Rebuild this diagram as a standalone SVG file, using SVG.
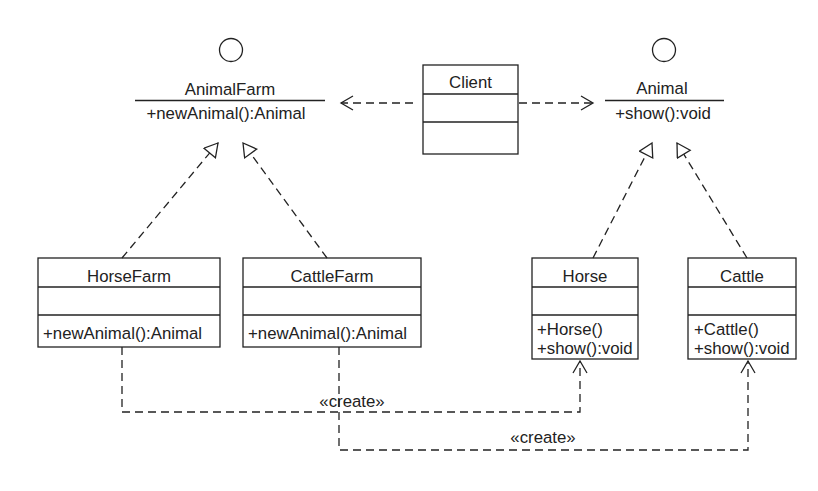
<svg xmlns="http://www.w3.org/2000/svg" width="818" height="491" viewBox="0 0 818 491">
<style>
text{font-family:"Liberation Sans",Arial,sans-serif;font-size:16.8px;fill:#222}
.c{text-anchor:middle}
.box{fill:#fff;stroke:#222;stroke-width:1.3}
.ln{fill:none;stroke:#222;stroke-width:1.3}
.dash{fill:none;stroke:#222;stroke-width:1.3;stroke-dasharray:8 5}
</style>
<defs>
<marker id="tri" markerUnits="userSpaceOnUse" markerWidth="20" markerHeight="20" refX="15" refY="8" orient="auto">
<path d="M15,8 L2,0.5 L2,15.5 Z" fill="#fff" stroke="#222" stroke-width="1.3"/>
</marker>
<marker id="open" markerUnits="userSpaceOnUse" markerWidth="20" markerHeight="20" refX="14" refY="8" orient="auto">
<path d="M2,1 L14,8 L2,15" fill="none" stroke="#222" stroke-width="1.3"/>
</marker>
</defs>
<g id="AnimalFarm">
<circle cx="231" cy="50" r="11.5" class="ln"/>
<text x="230" y="95" class="c">AnimalFarm</text>
<line x1="135" y1="100.5" x2="325" y2="100.5" class="ln"/>
<text x="226" y="119" class="c">+newAnimal():Animal</text>
</g>
<g id="Animal">
<circle cx="664" cy="50" r="11.5" class="ln"/>
<text x="662" y="94" class="c">Animal</text>
<line x1="605" y1="100.5" x2="724" y2="100.5" class="ln"/>
<text x="663" y="119" class="c">+show():void</text>
</g>
<g id="Client">
<rect x="423" y="65" width="95" height="89" class="box"/>
<line x1="423" y1="94" x2="518" y2="94" class="ln"/>
<line x1="423" y1="122" x2="518" y2="122" class="ln"/>
<text x="470.5" y="88" class="c">Client</text>
</g>
<g id="HorseFarm">
<rect x="38" y="258" width="182" height="89" class="box"/>
<line x1="38" y1="287" x2="220" y2="287" class="ln"/>
<line x1="38" y1="315" x2="220" y2="315" class="ln"/>
<text x="129" y="282" class="c">HorseFarm</text>
<text x="43" y="339">+newAnimal():Animal</text>
</g>
<g id="CattleFarm">
<rect x="243" y="258" width="178" height="89" class="box"/>
<line x1="243" y1="287" x2="421" y2="287" class="ln"/>
<line x1="243" y1="315" x2="421" y2="315" class="ln"/>
<text x="332" y="282" class="c">CattleFarm</text>
<text x="248" y="339">+newAnimal():Animal</text>
</g>
<g id="Horse">
<rect x="532" y="258" width="106" height="101" class="box"/>
<line x1="532" y1="287" x2="638" y2="287" class="ln"/>
<line x1="532" y1="315" x2="638" y2="315" class="ln"/>
<text x="585" y="282" class="c">Horse</text>
<text x="537" y="335">+Horse()</text>
<text x="537" y="354">+show():void</text>
</g>
<g id="Cattle">
<rect x="688" y="258" width="108" height="101" class="box"/>
<line x1="688" y1="287" x2="796" y2="287" class="ln"/>
<line x1="688" y1="315" x2="796" y2="315" class="ln"/>
<text x="742" y="282" class="c">Cattle</text>
<text x="694" y="335">+Cattle()</text>
<text x="694" y="354">+show():void</text>
</g>
<g id="connectors">
<path d="M413,103 H341" class="dash" marker-end="url(#open)"/>
<path d="M519,103 H593" class="dash" marker-end="url(#open)"/>
<path d="M122,258 L218,143" class="dash" marker-end="url(#tri)"/>
<path d="M327,258 L243,143" class="dash" marker-end="url(#tri)"/>
<path d="M593,258 L652,143" class="dash" marker-end="url(#tri)"/>
<path d="M747,258 L677,143" class="dash" marker-end="url(#tri)"/>
<path d="M122,347 V412 H580 V361" class="dash" marker-end="url(#open)"/>
<path d="M339,347 V450 H748 V361" class="dash" marker-end="url(#open)"/>
<text x="352" y="407" class="c">«create»</text>
<text x="543" y="443" class="c">«create»</text>
</g>
</svg>
